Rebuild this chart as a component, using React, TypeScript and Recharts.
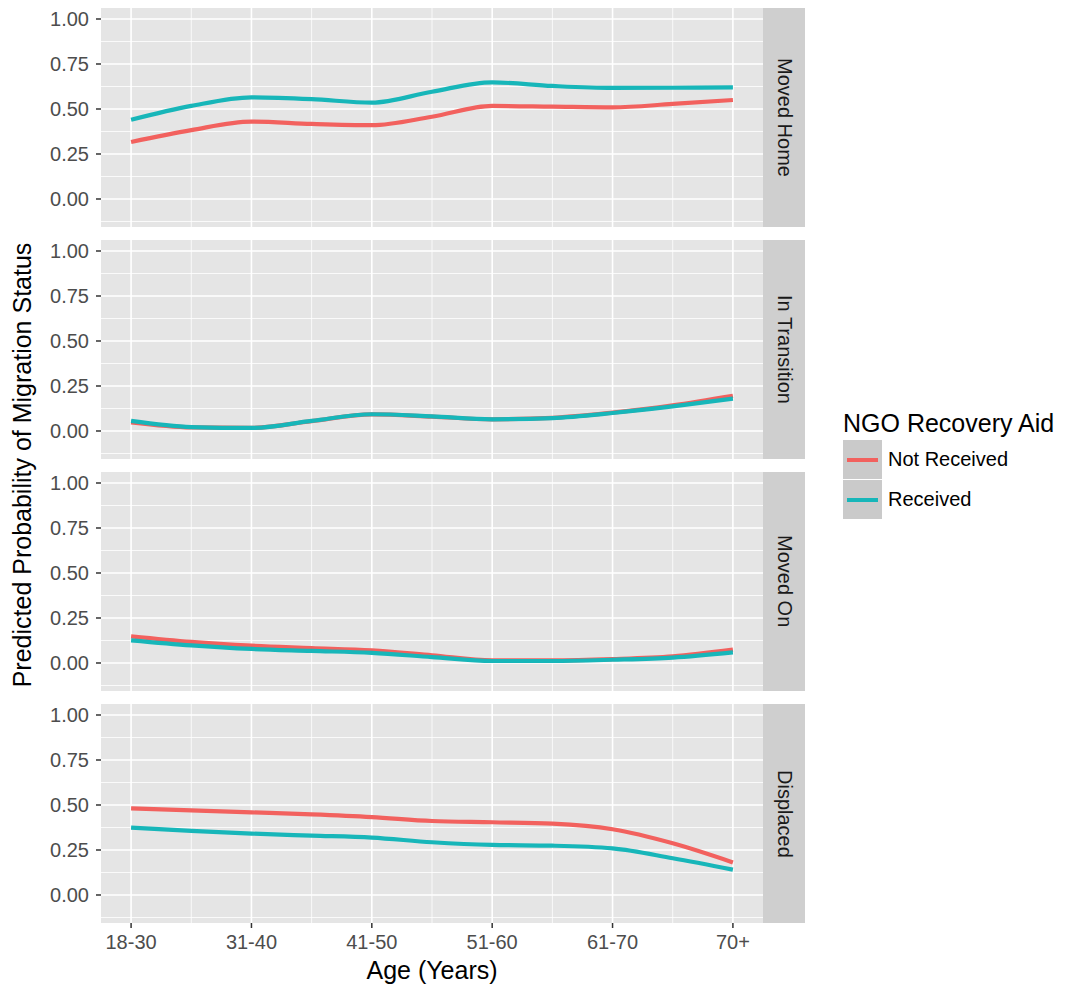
import { LineChart, Line, XAxis, YAxis, CartesianGrid, ReferenceLine } from 'recharts';

const ageLabels = ['18-30', '31-40', '41-50', '51-60', '61-70', '70+'];
const agePos = [1, 2, 3, 4, 5, 6];
// curve at each category and half way between
const samplePos = [1, 1.5, 2, 2.5, 3, 3.5, 4, 4.5, 5, 5.5, 6];

const movedHomeNot = [0.317, 0.383, 0.43, 0.417, 0.41, 0.457, 0.517, 0.513, 0.509, 0.528, 0.55];
const movedHomeRec = [0.44, 0.517, 0.565, 0.555, 0.535, 0.596, 0.648, 0.628, 0.617, 0.618, 0.62];

const transitionNot = [0.048, 0.02, 0.017, 0.055, 0.092, 0.08, 0.065, 0.073, 0.102, 0.142, 0.195];
const transitionRec = [0.056, 0.022, 0.017, 0.056, 0.093, 0.081, 0.065, 0.072, 0.1, 0.137, 0.18];

const movedOnNot = [0.148, 0.117, 0.096, 0.083, 0.07, 0.043, 0.015, 0.015, 0.022, 0.037, 0.074];
const movedOnRec = [0.126, 0.098, 0.078, 0.067, 0.056, 0.033, 0.011, 0.011, 0.018, 0.03, 0.059];

const displacedNot = [0.481, 0.47, 0.459, 0.448, 0.433, 0.411, 0.404, 0.396, 0.365, 0.287, 0.181];
const displacedRec = [0.374, 0.356, 0.341, 0.33, 0.319, 0.293, 0.278, 0.274, 0.259, 0.204, 0.141];

const majorY = [0, 0.25, 0.5, 0.75, 1];
const minorY = [-0.125, 0.125, 0.375, 0.625, 0.875];
const minorX = [1.5, 2.5, 3.5, 4.5, 5.5];

const RED = '#F2615E';
const TEAL = '#17B6B9';
const FONT = '"Liberation Sans", Arial, sans-serif';

const PANEL_H = 219;
const AXIS_H = 40;
const CHART_W = 763;
const Y_W = 101;
const LINE_W = 4.2;

type PanelProps = {
  label: string;
  top: number;
  notRec: number[];
  rec: number[];
  showX?: boolean;
};

function Panel({ label, top, notRec, rec, showX = false }: PanelProps) {
  const data = samplePos.map((x, i) => ({ x, notRec: notRec[i], rec: rec[i] }));
  return (
    <>
      <div style={{ position: 'absolute', left: 0, top }}>
        <LineChart
          width={CHART_W}
          height={PANEL_H + (showX ? AXIS_H : 0)}
          data={data}
          margin={{ top: 0, right: 0, bottom: 0, left: 0 }}
        >
          <CartesianGrid fill="#E5E5E5" horizontal={false} vertical={false} />
          {minorY.map((v) => (
            <ReferenceLine key={'my' + v} y={v} stroke="#fff" strokeWidth={0.8} />
          ))}
          {minorX.map((v) => (
            <ReferenceLine key={'mx' + v} x={v} stroke="#fff" strokeWidth={0.8} />
          ))}
          {majorY.map((v) => (
            <ReferenceLine key={'Y' + v} y={v} stroke="#fff" strokeWidth={1.6} />
          ))}
          {agePos.map((v) => (
            <ReferenceLine key={'X' + v} x={v} stroke="#fff" strokeWidth={1.6} />
          ))}
          <XAxis
            type="number"
            dataKey="x"
            domain={[0.75, 6.25]}
            ticks={agePos}
            interval={0}
            allowDataOverflow
            hide={!showX}
            height={AXIS_H}
            axisLine={false}
            tickSize={5}
            tickMargin={7}
            tickLine={{ stroke: '#333', strokeWidth: 1.5 }}
            tick={{ fill: '#4D4D4D', fontSize: 20, fontFamily: FONT }}
            tickFormatter={(v: number) => ageLabels[v - 1]}
          />
          <YAxis
            type="number"
            domain={[-0.1556, 1.0611]}
            ticks={majorY}
            interval={0}
            allowDataOverflow
            width={Y_W}
            axisLine={false}
            tickSize={5}
            tickMargin={7}
            tickLine={{ stroke: '#333', strokeWidth: 1.5 }}
            tick={{ fill: '#4D4D4D', fontSize: 20, fontFamily: FONT }}
            tickFormatter={(v: number) => v.toFixed(2)}
          />
          <Line
            type="monotone"
            dataKey="notRec"
            stroke={RED}
            strokeWidth={LINE_W}
            dot={false}
            activeDot={false}
            isAnimationActive={false}
          />
          <Line
            type="monotone"
            dataKey="rec"
            stroke={TEAL}
            strokeWidth={LINE_W}
            dot={false}
            activeDot={false}
            isAnimationActive={false}
          />
        </LineChart>
      </div>
      <div
        style={{
          position: 'absolute',
          left: CHART_W,
          top,
          width: 42,
          height: PANEL_H,
          background: '#CFCFCF',
          display: 'flex',
          alignItems: 'center',
          justifyContent: 'center',
        }}
      >
        <span
          style={{
            writingMode: 'vertical-rl',
            fontFamily: FONT,
            fontSize: 20,
            color: '#1A1A1A',
            whiteSpace: 'nowrap',
          }}
        >
          {label}
        </span>
      </div>
    </>
  );
}

function LegendKey({ color, text, top }: { color: string; text: string; top: number }) {
  return (
    <>
      <div
        style={{
          position: 'absolute',
          left: 843,
          top,
          width: 39,
          height: 39,
          background: '#CACACA',
        }}
      >
        <div
          style={{
            position: 'absolute',
            left: 4,
            right: 4,
            top: 17.5,
            height: LINE_W,
            background: color,
          }}
        />
      </div>
      <div
        style={{
          position: 'absolute',
          left: 888,
          top,
          height: 39,
          lineHeight: '39px',
          fontFamily: FONT,
          fontSize: 20,
          color: '#000',
          whiteSpace: 'nowrap',
        }}
      >
        {text}
      </div>
    </>
  );
}

export default function App() {
  return (
    <div
      style={{
        position: 'absolute',
        left: 0,
        top: 0,
        width: 1067,
        height: 988,
        background: '#fff',
        fontFamily: FONT,
      }}
    >
      <Panel label="Moved Home" top={8} notRec={movedHomeNot} rec={movedHomeRec} />
      <Panel label="In Transition" top={240} notRec={transitionNot} rec={transitionRec} />
      <Panel label="Moved On" top={472} notRec={movedOnNot} rec={movedOnRec} />
      <Panel label="Displaced" top={704} notRec={displacedNot} rec={displacedRec} showX />

      <div
        style={{
          position: 'absolute',
          left: 432,
          top: 970,
          transform: 'translate(-50%, -50%)',
          fontSize: 25,
          color: '#000',
          whiteSpace: 'nowrap',
        }}
      >
        Age (Years)
      </div>
      <div
        style={{
          position: 'absolute',
          left: 22,
          top: 465,
          transform: 'translate(-50%, -50%) rotate(-90deg)',
          fontSize: 25,
          color: '#000',
          whiteSpace: 'nowrap',
        }}
      >
        Predicted Probability of Migration Status
      </div>

      <div
        style={{
          position: 'absolute',
          left: 843,
          top: 409,
          fontSize: 25,
          color: '#000',
          whiteSpace: 'nowrap',
        }}
      >
        NGO Recovery Aid
      </div>
      <LegendKey color={RED} text="Not Received" top={440} />
      <LegendKey color={TEAL} text="Received" top={480} />
    </div>
  );
}
